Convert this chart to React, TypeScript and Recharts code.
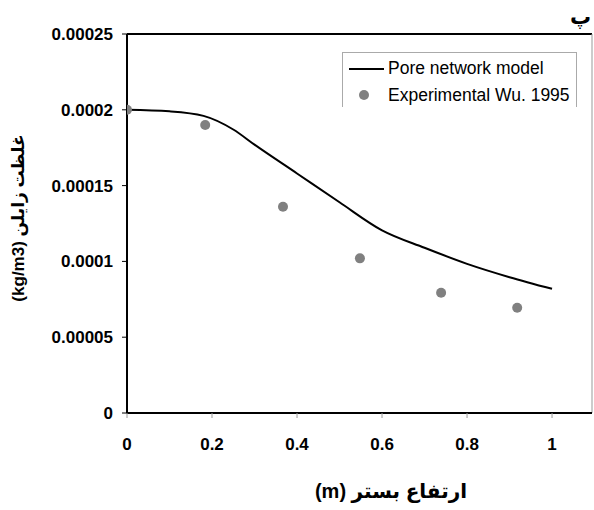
import {
  ComposedChart,
  Line,
  Scatter,
  XAxis,
  YAxis,
  ReferenceLine,
} from "recharts";

// bed height (m) vs xylene concentration (kg/m3)
const modelX = [0, 0.1, 0.18, 0.25, 0.3, 0.4, 0.5, 0.6, 0.7, 0.8, 0.9, 1.0];
const modelY = [
  0.0002, 0.000199, 0.000196, 0.000187, 0.000177, 0.000158, 0.000139, 0.0001205,
  0.000109, 0.0000984, 0.0000896, 0.0000819,
];
const expX = [0, 0.184, 0.367, 0.548, 0.739, 0.918];
const expY = [0.0002, 0.00019, 0.000136, 0.000102, 0.0000793, 0.0000694];

const xTicks = [0, 0.2, 0.4, 0.6, 0.8, 1];
const yTicks = [0, 0.00005, 0.0001, 0.00015, 0.0002, 0.00025];
const yTickLabels = ["0", "0.00005", "0.0001", "0.00015", "0.0002", "0.00025"];

const modelData = modelX.map((x, i) => ({ x, y: modelY[i] }));
const expData = expX.map((x, i) => ({ x, y: expY[i] }));

const font = "'Liberation Sans', 'DejaVu Sans', Arial, sans-serif";
const X_MAX = 1.094; // plot box runs a bit past 1

export default function App() {
  return (
    <div style={{ position: "relative", width: 594, height: 510, background: "#fff", fontFamily: font }}>
      <style>{"body{margin:0}"}</style>
      <ComposedChart
        width={594}
        height={510}
        margin={{ top: 34, right: 2, bottom: 0, left: 0 }}
      >
        <XAxis
          type="number"
          dataKey="x"
          domain={[0, X_MAX]}
          ticks={xTicks}
          allowDataOverflow
          axisLine={{ stroke: "#000", strokeWidth: 2 }}
          tickLine={{ stroke: "#999" }}
          tickSize={5}
          tickMargin={20}
          tick={{ fill: "#000", fontSize: 17, fontWeight: 700, fontFamily: font }}
          height={97}
        />
        <YAxis
          type="number"
          dataKey="y"
          domain={[0, 0.00025]}
          ticks={yTicks}
          tickFormatter={(v: number) => yTickLabels[yTicks.indexOf(v)] ?? String(v)}
          axisLine={{ stroke: "#000", strokeWidth: 2 }}
          tickLine={{ stroke: "#000" }}
          tickSize={5}
          tickMargin={9}
          tick={{ fill: "#000", fontSize: 17, fontWeight: 700, fontFamily: font }}
          width={127}
        />
        <ReferenceLine y={0.00025} stroke="#000" strokeWidth={2} />
        <ReferenceLine x={X_MAX} stroke="#999" strokeWidth={1} />
        <Line
          data={modelData}
          dataKey="y"
          type="monotone"
          stroke="#000"
          strokeWidth={2}
          dot={false}
          isAnimationActive={false}
        />
        <Scatter
          data={expData}
          dataKey="y"
          fill="#808080"
          shape={(p: any) => <circle cx={p.cx} cy={p.cy} r={5} fill="#808080" />}
          isAnimationActive={false}
        />
      </ComposedChart>

      {/* legend */}
      <div
        style={{
          position: "absolute",
          left: 342,
          top: 52,
          width: 235,
          height: 55,
          borderTop: "1px solid #aaa",
          borderLeft: "1px solid #aaa",
          borderRight: "1px solid #aaa",
          boxSizing: "border-box",
          fontSize: 17.5,
          lineHeight: "20px",
          color: "#000",
        }}
      >
        <div style={{ position: "absolute", left: 6, top: 15, width: 35, height: 2, background: "#000" }} />
        <div style={{ position: "absolute", left: 45, top: 5, whiteSpace: "nowrap" }}>Pore network model</div>
        <div
          style={{
            position: "absolute",
            left: 16,
            top: 37,
            width: 10,
            height: 10,
            borderRadius: "50%",
            background: "#808080",
          }}
        />
        <div style={{ position: "absolute", left: 45, top: 32, whiteSpace: "nowrap" }}>Experimental Wu. 1995</div>
      </div>

      {/* y axis title */}
      <div
        style={{
          position: "absolute",
          left: 18,
          top: 218,
          transform: "translate(-50%, -50%) rotate(-90deg)",
          whiteSpace: "nowrap",
          fontSize: 17,
          fontWeight: 700,
          direction: "rtl",
        }}
      >
        غلظت زایلن (kg/m3)
      </div>

      {/* x axis title */}
      <div
        style={{
          position: "absolute",
          left: 391,
          top: 491,
          transform: "translate(-50%, -50%)",
          whiteSpace: "nowrap",
          fontSize: 20,
          fontWeight: 700,
          direction: "rtl",
        }}
      >
        ارتفاع بستر (m)
      </div>

      {/* panel letter */}
      <div
        style={{
          position: "absolute",
          right: 3,
          top: 4,
          fontSize: 21,
          lineHeight: "26px",
          fontWeight: 700,
        }}
      >
        پ
      </div>
    </div>
  );
}
